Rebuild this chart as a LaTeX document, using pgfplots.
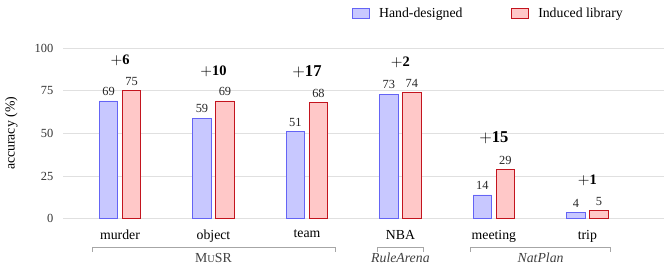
\documentclass[border=0pt]{standalone}
\usepackage{fontspec}
\setmainfont{Liberation Serif}
\usepackage{pgfplots}
\pgfplotsset{compat=1.18}
\definecolor{hblue}{RGB}{200,200,255}
\definecolor{hbluedraw}{RGB}{100,100,245}
\definecolor{ired}{RGB}{255,200,200}
\definecolor{ireddraw}{RGB}{195,20,30}
\begin{document}
\begin{tikzpicture}
\begin{axis}[
  width=436pt, height=124pt, scale only axis,
  xmin=-0.61, xmax=5.82, ymin=0, ymax=100,
  ytick={0,25,50,75,100},
  xtick={0,1,2,3,4,5},
  xticklabels={murder,object,team,NBA,meeting,trip},
  axis line style={draw=none}, major tick length=0pt,
  ymajorgrids, grid style={black!12, line width=0.6pt},
  ylabel={accuracy (\%)},
  ylabel style={font=\fontsize{10}{12}\selectfont},
  ylabel shift=5.5pt,
  ybar=3.3pt, bar width=13.4pt,
  clip=false,
  /pgf/number format/assume math mode=true,
  yticklabel style={font=\fontsize{9}{11}\selectfont, text=black!80, xshift=-3.5pt},
  xticklabel style={font=\fontsize{10}{12}\selectfont, yshift=-4.5pt},
  nodes near coords,
  nodes near coords style={font=\fontsize{9}{11}\selectfont, text=black!85},
  legend columns=2,
  legend style={draw=none, at={(rel axis cs:0.473,1.27)}, anchor=north west,
    /tikz/every odd column/.append style={column sep=5pt},
    /tikz/every even column/.append style={column sep=33pt},
    font=\fontsize{10}{12}\selectfont},
  legend image code/.code={\draw[#1] (0pt,-3.5pt) rectangle (12.3pt,3.5pt);},
]
\addplot[fill=hblue, draw=hbluedraw, line width=0.6pt] coordinates {(0,69) (1,59) (2,51) (3,73) (4,14) (5,4)};
\addlegendentry{Hand-designed}
\addplot[fill=ired, draw=ireddraw, line width=0.6pt] coordinates {(0,75) (1,69) (2,68) (3,74) (4,29) (5,5)};
\addlegendentry{Induced library}

\node[font=\fontsize{10.5}{12}\selectfont] at (axis cs:0,92.5) {$+$\textbf{6}};
\node[font=\fontsize{10.5}{12}\selectfont] at (axis cs:1,86.5) {$+$\textbf{10}};
\node[font=\fontsize{12}{14}\selectfont] at (axis cs:2,86) {$+$\textbf{17}};
\node[font=\fontsize{10.5}{12}\selectfont] at (axis cs:3,91.8) {$+$\textbf{2}};
\node[font=\fontsize{12}{14}\selectfont] at (axis cs:4,47.4) {$+$\textbf{15}};
\node[font=\fontsize{10.5}{12}\selectfont] at (axis cs:5,22.8) {$+$\textbf{1}};

\draw[black!35, line width=0.6pt] ([yshift=-24pt]axis cs:-0.3,0) -- ([yshift=-21pt]axis cs:-0.3,0) -- ([yshift=-21pt]axis cs:2.3,0) -- ([yshift=-24pt]axis cs:2.3,0);
\draw[black!35, line width=0.6pt] ([yshift=-24pt]axis cs:2.75,0) -- ([yshift=-21pt]axis cs:2.75,0) -- ([yshift=-21pt]axis cs:3.25,0) -- ([yshift=-24pt]axis cs:3.25,0);
\draw[black!35, line width=0.6pt] ([yshift=-24pt]axis cs:3.75,0) -- ([yshift=-21pt]axis cs:3.75,0) -- ([yshift=-21pt]axis cs:5.25,0) -- ([yshift=-24pt]axis cs:5.25,0);
\node[text=black!75, font=\fontsize{10}{12}\selectfont] at ([yshift=-28.5pt]axis cs:1,0) {M{\fontsize{7.5}{9}\selectfont U}SR};
\node[text=black!75, font=\fontsize{10}{12}\itshape] at ([yshift=-28.5pt]axis cs:3,0) {RuleArena};
\node[text=black!75, font=\fontsize{10}{12}\itshape] at ([yshift=-28.5pt]axis cs:4.5,0) {NatPlan};
\coordinate (bl) at (rel axis cs:0,0);
\coordinate (tr) at (rel axis cs:1,1);
\end{axis}
\pgfresetboundingbox
\path ([xshift=-45.7pt,yshift=-37.7pt]bl) rectangle ([xshift=4.35pt,yshift=34.8pt]tr);
\end{tikzpicture}
\end{document}
